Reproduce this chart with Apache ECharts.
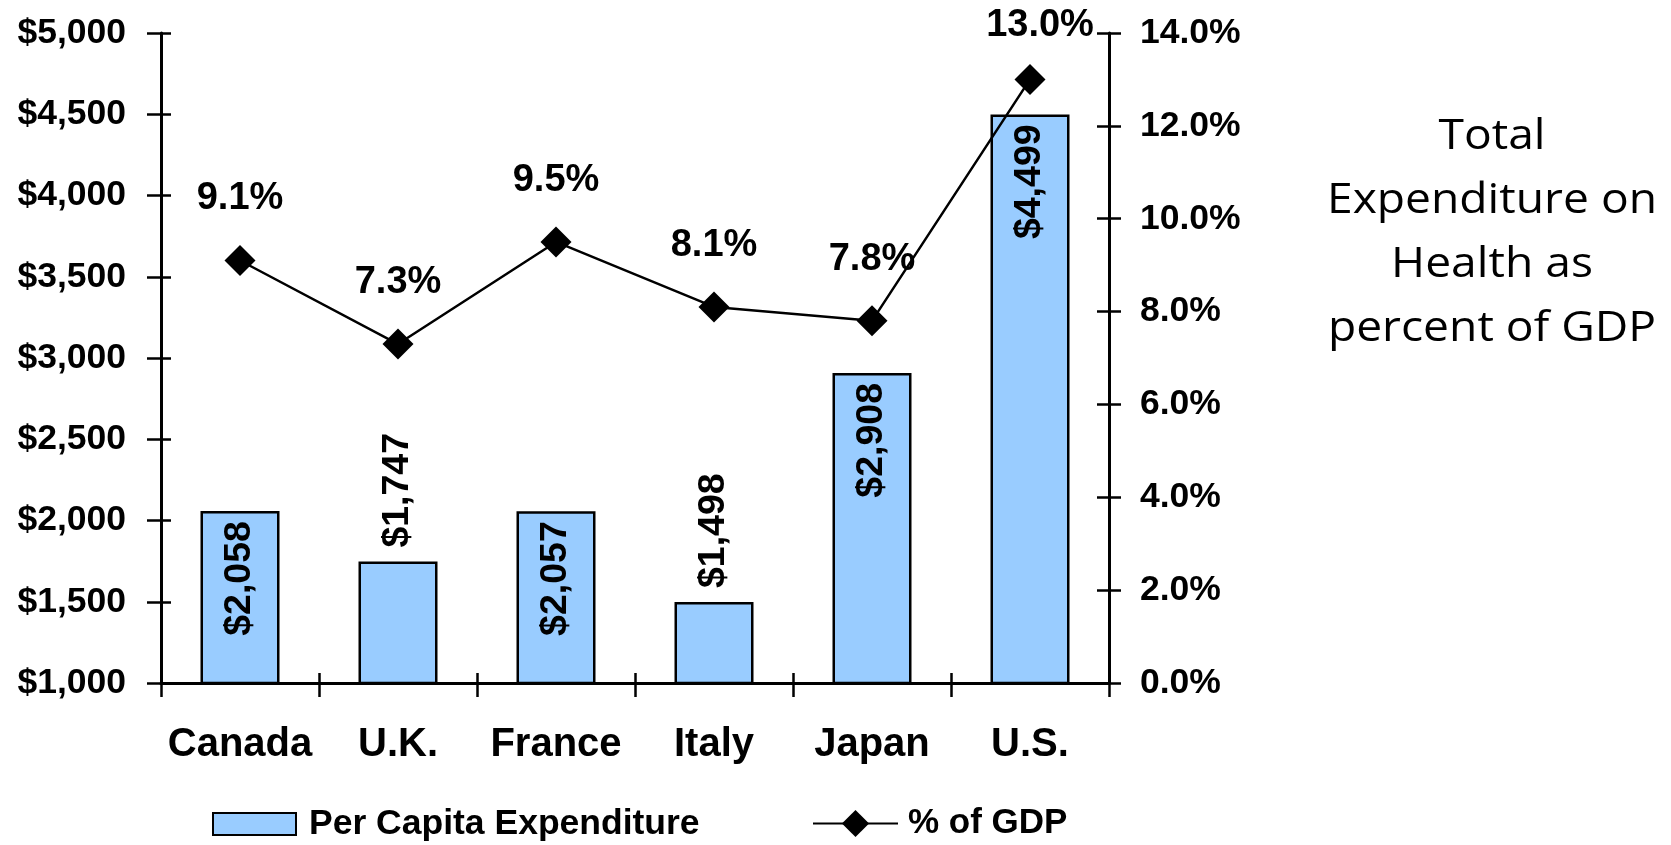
<!DOCTYPE html>
<html>
<head>
<meta charset="utf-8">
<script src="https://cdn.jsdelivr.net/npm/echarts@6/dist/echarts.min.js"></script>
<style>
  html, body { margin: 0; padding: 0; background: #ffffff; }
  #chart { width: 1671px; height: 845px; }
</style>
</head>
<body>
<div id="chart"></div>
<script>
// Health spending by country
const countries = ['Canada', 'U.K.', 'France', 'Italy', 'Japan', 'U.S.'];
const perCapitaSpending = [2058, 1747, 2057, 1498, 2908, 4499];
const gdpShare = [9.1, 7.3, 9.5, 8.1, 7.8, 13.0];

// Axis ranges / tick steps
const spendingAxis = [1000, 5000, 500];
const gdpAxis = [0, 14, 2];

const barName = 'Per Capita Expenditure';
const lineName = '% of GDP';
const titleLines = ['Total', 'Expenditure on', 'Health as', 'percent of GDP'];

const BOLD = { fontFamily: '"Liberation Sans", Arial, sans-serif', fontWeight: 'bold', color: '#000' };
const money = v => '$' + Math.round(v).toLocaleString('en-US');

const axisLine = { show: true, lineStyle: { color: '#000', width: 3 } };
const tickStyle = { color: '#000', width: 2.5 };

function valueAxis(range, pos, inside, len, label) {
  return {
    type: 'value', position: pos,
    min: range[0], max: range[1], interval: range[2],
    splitLine: { show: false },
    axisLine: inside ? { show: false } : axisLine,
    axisTick: { show: true, inside: inside, length: len, lineStyle: tickStyle },
    axisLabel: label ? Object.assign({ show: true }, label) : { show: false }
  };
}

const chart = echarts.init(document.getElementById('chart'), null, { renderer: 'canvas' });

const insideLabel = { position: 'insideTop', distance: 10, align: 'right', verticalAlign: 'middle' };
const outsideLabel = { position: 'top', distance: 14, align: 'left', verticalAlign: 'middle' };

chart.setOption({
  animation: false,
  backgroundColor: '#ffffff',
  grid: { left: 161, right: 562, top: 33, bottom: 162, containLabel: false },
  xAxis: [
    {
      type: 'category', data: countries, position: 'bottom',
      axisLine: Object.assign({ onZero: false }, axisLine),
      axisTick: { show: true, length: 14, lineStyle: tickStyle },
      axisLabel: Object.assign({ fontSize: 40, margin: 42, interval: 0 }, BOLD)
    },
    {
      type: 'category', data: countries, position: 'bottom',
      axisLine: { show: false, onZero: false },
      axisTick: { show: true, inside: true, length: 10, lineStyle: tickStyle },
      axisLabel: { show: false }
    }
  ],
  yAxis: [
    valueAxis(spendingAxis, 'left', false, 14, Object.assign({ fontSize: 35.5, margin: 35, formatter: money }, BOLD)),
    valueAxis(spendingAxis, 'left', true, 10, null),
    valueAxis(gdpAxis, 'right', false, 12, Object.assign({ fontSize: 35.5, margin: 31, formatter: v => v.toFixed(1) + '%' }, BOLD)),
    valueAxis(gdpAxis, 'right', true, 12, null)
  ],
  legend: [
    {
      data: [{ name: barName, icon: 'rect' }], left: 212, top: 806, padding: 0,
      itemWidth: 83, itemHeight: 22,
      textStyle: Object.assign({ fontSize: 35.5, padding: [0, 0, 0, 8] }, BOLD)
    },
    {
      data: [lineName], left: 812, top: 806, padding: 0,
      itemWidth: 85, itemHeight: 34,
      textStyle: Object.assign({ fontSize: 35, padding: [0, 0, 0, 5] }, BOLD)
    }
  ],
  graphic: [
    {
      type: 'text', x: 1492, y: 105, scaleX: 1.1,
      style: {
        text: titleLines.join('\n'),
        fontFamily: '"Open Sans", sans-serif', fontSize: 42,
        fill: '#000', align: 'center', verticalAlign: 'top', lineHeight: 64
      }
    }
  ],
  series: [
    {
      name: barName, type: 'bar', xAxisIndex: 0, yAxisIndex: 0,
      barWidth: '50%',
      itemStyle: { color: '#99CCFF', borderColor: '#000', borderWidth: 2.5 },
      label: Object.assign({ show: true, rotate: 90, fontSize: 37.5, formatter: p => money(p.value) }, BOLD),
      data: perCapitaSpending.map(v => ({
        value: v,
        // tall bars carry their label inside, short bars above
        label: (v - spendingAxis[0] >= 1000) ? insideLabel : outsideLabel
      }))
    },
    {
      name: lineName, type: 'line', xAxisIndex: 0, yAxisIndex: 2,
      symbol: 'diamond', symbolSize: 31,
      itemStyle: { color: '#000' },
      lineStyle: { color: '#000', width: 2.5 },
      label: Object.assign({
        show: true, position: 'top', distance: 27, fontSize: 38,
        formatter: p => p.value.toFixed(1) + '%'
      }, BOLD),
      data: gdpShare.map(v => (v > gdpAxis[1] - 2)
        ? { value: v, label: { offset: [10, 8] } }   // nudge the label kept below the top edge
        : v)
    }
  ]
});
</script>
</body>
</html>
